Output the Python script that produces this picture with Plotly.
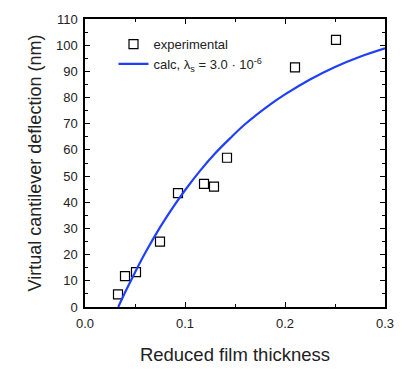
import plotly.graph_objects as go

# Measured deflection vs reduced film thickness
thickness_exp = [0.033, 0.040, 0.051, 0.075, 0.093, 0.119, 0.129, 0.142, 0.210, 0.251]
deflection_exp = [4.8, 11.8, 13.3, 25.0, 43.5, 47.0, 46.0, 57.0, 91.5, 102.0]

# Calculated curve (lambda_s = 3.0e-6)
thickness_calc = [0.0333, 0.040, 0.050, 0.060, 0.075, 0.090, 0.100, 0.115, 0.130, 0.145,
                  0.160, 0.185, 0.200, 0.225, 0.250, 0.275, 0.300]
deflection_calc = [0.0, 5.5, 13.2, 20.5, 30.4, 39.2, 44.6, 52.0, 58.6, 64.4,
                   69.8, 77.3, 81.2, 86.9, 91.7, 95.6, 98.8]

x_ticks = [0.0, 0.1, 0.2, 0.3]
x_ticklabels = ["0.0", "0.1", "0.2", "0.3"]
y_ticks = list(range(0, 111, 10))

FONT = "Liberation Sans, Arial, Helvetica, sans-serif"

fig = go.Figure()

fig.add_trace(go.Scatter(
    x=thickness_exp, y=deflection_exp, mode="markers",
    name="experimental",
    marker=dict(symbol="square-open", size=9, color="black", line=dict(width=1.2, color="black")),
))

fig.add_trace(go.Scatter(
    x=thickness_calc, y=deflection_calc, mode="lines",
    name="calc, λ<sub>s</sub> = 3.0 · 10<sup>-6</sup>",
    line=dict(color="#1f3fff", width=2.2, shape="spline", smoothing=1.0),
))

axis_common = dict(
    showline=True, linecolor="black", linewidth=1.5, mirror="allticks",
    ticks="inside", ticklen=5, tickwidth=1, tickcolor="black",
    showgrid=False, zeroline=False,
    tickfont=dict(family=FONT, size=13, color="#222"),
)

fig.update_xaxes(
    range=[0, 0.3], tickvals=x_ticks, ticktext=x_ticklabels,
    minor=dict(ticks="inside", ticklen=3, dtick=0.05, tickcolor="black", showgrid=False),
    ticklabelstandoff=4,
    title=dict(text="Reduced film thickness", font=dict(family=FONT, size=18.5, color="#222"), standoff=18),
    **axis_common,
)
fig.update_yaxes(
    range=[0, 110], tickvals=y_ticks,
    minor=dict(ticks="inside", ticklen=3, dtick=5, tickcolor="black", showgrid=False),
    ticklabelstandoff=3,
    title=dict(text="Virtual cantilever deflection (nm)", font=dict(family=FONT, size=18, color="#222"), standoff=10),
    **axis_common,
)

fig.update_layout(
    width=408, height=374,
    margin=dict(l=85, r=23, t=12, b=63),
    paper_bgcolor="white", plot_bgcolor="white",
    showlegend=True,
    legend=dict(
        x=0.095, y=0.965, xanchor="left", yanchor="top",
        bgcolor="rgba(0,0,0,0)", borderwidth=0,
        font=dict(family=FONT, size=13, color="#222"),
        tracegroupgap=4, itemwidth=30,
    ),
)

fig.write_html("out.html")
